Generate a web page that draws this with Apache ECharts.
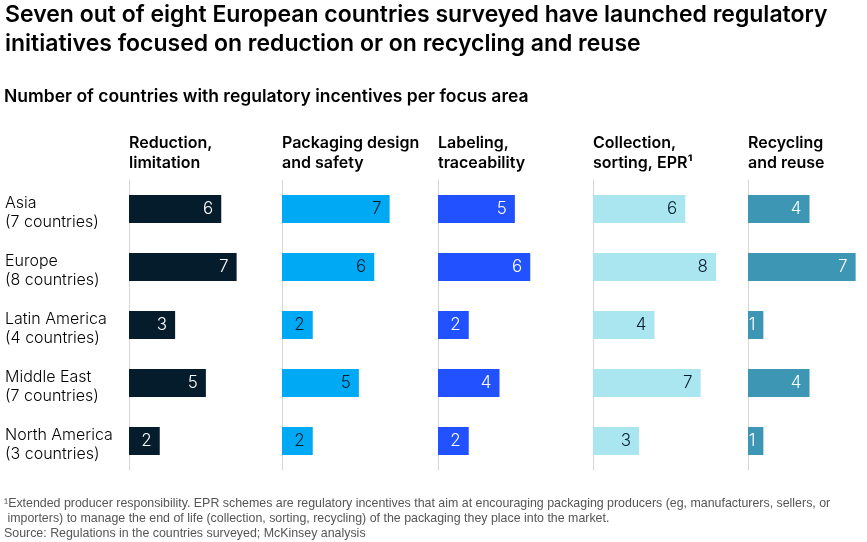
<!DOCTYPE html>
<html lang="en">
<head>
    <meta charset="UTF-8">
    <title>Regulatory initiatives</title>
    <script src="https://cdn.jsdelivr.net/npm/echarts@6/dist/echarts.min.js"></script>
    <style>
        html, body { margin: 0; padding: 0; background: #fff; }
        #chart { width: 867px; height: 542px; }
    </style>
</head>
<body>
<div id="chart"></div>
<script>
    // data
    var regions = ['Asia', 'Europe', 'Latin America', 'Middle East', 'North America'];
    var regionCounts = ['7 countries', '8 countries', '4 countries', '7 countries', '3 countries'];
    var areas = ['Reduction,\nlimitation', 'Packaging design\nand safety', 'Labeling,\ntraceability', 'Collection,\nsorting, EPR¹', 'Recycling\nand reuse'];
    var reduction = [6, 7, 3, 5, 2];
    var packaging = [7, 6, 2, 5, 2];
    var labeling = [5, 6, 2, 4, 2];
    var collection = [6, 8, 4, 7, 3];
    var recycling = [4, 7, 1, 4, 1];

    var seriesData = [reduction, packaging, labeling, collection, recycling];
    var colors = ['#051c2c', '#00a9f4', '#2251ff', '#aae6f0', '#3c96b4'];
    var labelColors = ['#ffffff', '#051c2c', '#ffffff', '#051c2c', '#ffffff'];
    var panelLeft = [129, 282, 438, 593, 748];
    // last panel is cut by the right edge, so it gets a shorter axis with the same px per unit
    var panelWidth = [123, 123, 123, 123, 119];
    var unitPx = 123 / 8;
    var font = 'Inter, "Liberation Sans", sans-serif';

    var chart = echarts.init(document.getElementById('chart'));

    var grids = [], xAxes = [], yAxes = [], series = [], titles = [];
    titles.push({
        text: 'Seven out of eight European countries surveyed have launched regulatory\ninitiatives focused on reduction or on recycling and reuse',
        left: 5, top: 1, padding: 0,
        textStyle: { fontFamily: font, fontSize: 23, fontWeight: 600, color: '#000', lineHeight: 29 }
    });
    titles.push({
        text: 'Number of countries with regulatory incentives per focus area',
        left: 4, top: 86, padding: 0,
        textStyle: { fontFamily: font, fontSize: 17.5, fontWeight: 600, color: '#000', lineHeight: 22 }
    });
    titles.push({
        text: '¹Extended producer responsibility. EPR schemes are regulatory incentives that aim at encouraging packaging producers (eg, manufacturers, sellers, or\n importers) to manage the end of life (collection, sorting, recycling) of the packaging they place into the market.\nSource: Regulations in the countries surveyed; McKinsey analysis',
        left: 4, top: 496, padding: 0,
        textStyle: { fontFamily: '"Liberation Sans", sans-serif', fontSize: 12.4, fontWeight: 'normal', color: '#555', lineHeight: 15 }
    });

    var rowLabelStyle = { fontFamily: font, fontSize: 16, fontWeight: 300, color: '#000', lineHeight: 19 };

    for (var i = 0; i < 5; i++) {
        grids.push({ left: panelLeft[i], top: 180, width: panelWidth[i], height: 290 });
        titles.push({
            text: areas[i],
            left: panelLeft[i], top: 133, padding: 0,
            textStyle: { fontFamily: font, fontSize: 16, fontWeight: 600, color: '#000', lineHeight: 20 }
        });
        xAxes.push({
            gridIndex: i, type: 'value', min: 0, max: panelWidth[i] / unitPx,
            show: false, splitLine: { show: false }
        });
        yAxes.push({
            gridIndex: i, type: 'category', inverse: true,
            data: regions,
            axisLine: { show: true, lineStyle: { color: '#d6d6d6', width: 1 } },
            axisTick: { show: false },
            axisLabel: i === 0 ? {
                show: true, align: 'left', margin: 124,
                formatter: function (v, idx) { return '{s| }\n{t|' + v + '}\n{t|(' + regionCounts[idx] + ')}'; },
                rich: {
                    s: { fontSize: 4, lineHeight: 7 },
                    t: rowLabelStyle
                }
            } : { show: false }
        });
        series.push({
            type: 'bar', xAxisIndex: i, yAxisIndex: i,
            data: seriesData[i], barWidth: 28,
            itemStyle: { color: colors[i] },
            label: {
                show: true, position: 'insideRight', distance: 8,
                fontFamily: font, fontSize: 17, fontWeight: 300, color: labelColors[i]
            },
            silent: true
        });
    }

    chart.setOption({
        backgroundColor: '#fff',
        animation: false,
        title: titles,
        grid: grids,
        xAxis: xAxes,
        yAxis: yAxes,
        series: series
    });
</script>
</body>
</html>
